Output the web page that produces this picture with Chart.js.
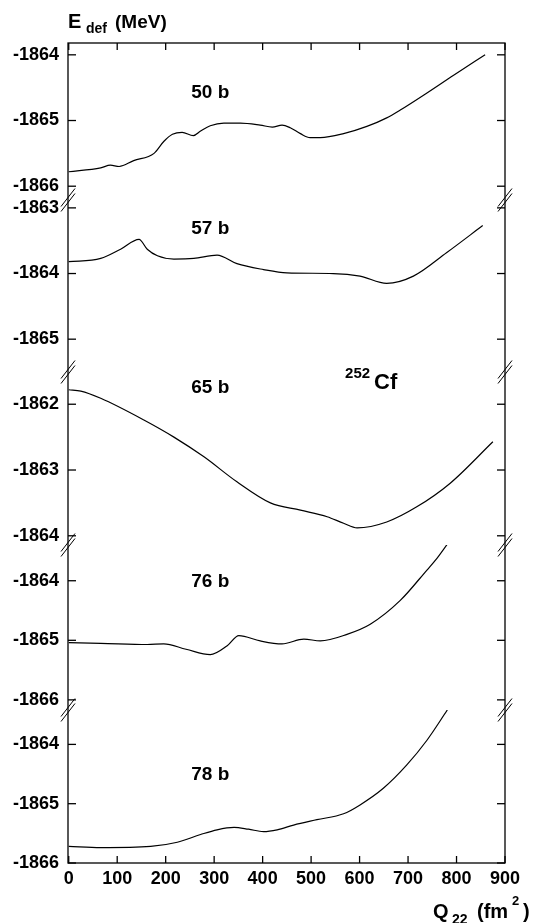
<!DOCTYPE html>
<html>
<head>
<meta charset="utf-8">
<script src="https://cdn.jsdelivr.net/npm/chart.js@4.4.1/dist/chart.umd.min.js"></script>
<style>
body { margin: 0; background: #fff; }
#wrap { width: 551px; height: 923px; }
</style>
</head>
<body>
<div id="wrap"><canvas id="lineChart" width="551" height="923"></canvas></div>
<script>
// Q22 (fm^2) and E_def (MeV)
const q50 = [0, 66, 86, 104, 134, 176, 196, 214, 234, 257, 272, 292, 320, 354, 395, 420, 440, 457, 478, 498, 519, 567, 615, 656, 684, 739, 794, 859];
const e50 = [-1865.78, -1865.72, -1865.68, -1865.70, -1865.61, -1865.50, -1865.32, -1865.21, -1865.18, -1865.23, -1865.16, -1865.08, -1865.04, -1865.04, -1865.07, -1865.10, -1865.07, -1865.11, -1865.20, -1865.26, -1865.26, -1865.20, -1865.09, -1864.96, -1864.84, -1864.58, -1864.31, -1864.00];

const q57 = [0, 66, 107, 145, 162, 183, 217, 258, 306, 347, 402, 450, 546, 601, 656, 711, 780, 854];
const e57 = [-1863.82, -1863.77, -1863.63, -1863.48, -1863.63, -1863.73, -1863.78, -1863.77, -1863.72, -1863.85, -1863.94, -1863.99, -1864.00, -1864.04, -1864.15, -1864.04, -1863.68, -1863.27];

const q65 = [0, 25, 66, 155, 217, 279, 347, 416, 478, 533, 567, 595, 656, 718, 787, 875];
const e65 = [-1861.78, -1861.80, -1861.91, -1862.24, -1862.50, -1862.80, -1863.18, -1863.50, -1863.61, -1863.71, -1863.81, -1863.88, -1863.79, -1863.56, -1863.20, -1862.57];

const q76 = [0, 66, 162, 196, 242, 292, 327, 351, 395, 440, 485, 519, 574, 622, 684, 739, 760, 791];
const e76 = [-1865.04, -1865.05, -1865.07, -1865.06, -1865.15, -1865.24, -1865.09, -1864.92, -1865.01, -1865.06, -1864.98, -1865.01, -1864.90, -1864.73, -1864.33, -1863.82, -1863.62, -1863.27];

const q78 = [0, 66, 169, 224, 272, 306, 341, 371, 402, 430, 464, 512, 567, 601, 649, 697, 739, 781];
const e78 = [-1865.72, -1865.74, -1865.72, -1865.65, -1865.52, -1865.44, -1865.40, -1865.43, -1865.47, -1865.44, -1865.36, -1865.27, -1865.17, -1865.02, -1864.74, -1864.35, -1863.93, -1863.42];

const panelNames = ['50 b', '57 b', '65 b', '76 b', '78 b'];
const panelQ = [q50, q57, q65, q76, q78];
const panelE = [e50, e57, e65, e76, e78];

const xTicks = [0, 100, 200, 300, 400, 500, 600, 700, 800, 900];
const panelTicks = [
    [-1866, -1865, -1864],
    [-1865, -1864, -1863],
    [-1864, -1863, -1862],
    [-1866, -1865, -1864],
    [-1866, -1865, -1864]
];
const panelMin = [-1866.21, -1865.50, -1864.14, -1866.17, -1866.0];
const panelMax = [-1863.82, -1862.88, -1861.51, -1863.40, -1863.42];

// where the panel names sit (data units)
const nameQ = 292;
const nameE = [-1864.57, -1863.32, -1861.75, -1864.02, -1864.52];

const panelIds = ['y1', 'y2', 'y3', 'y4', 'y5'];
const panelHeights = [157, 172, 173, 165, 153];
const boldFont = "'Liberation Sans', Arial, sans-serif";

function panelAxis(i){
    return {
        type: 'linear',
        position: 'left',
        stack: 'e',
        stackWeight: panelHeights[i],
        weight: 5 - i,
        min: panelMin[i],
        max: panelMax[i],
        grid: { display: false, drawTicks: false },
        border: { display: false },
        afterBuildTicks: function(s){ s.ticks = panelTicks[i].map(v => ({ value: v })); },
        afterFit: function(s){ s.width = 68; },
        ticks: {
            color: '#000',
            padding: 9,
            autoSkip: false,
            font: { family: boldFont, size: 18, weight: 'bold' },
            callback: v => String(v)
        }
    };
}

function strokeLine(ctx, x1, y1, x2, y2){
    ctx.beginPath();
    ctx.moveTo(x1, y1);
    ctx.lineTo(x2, y2);
    ctx.stroke();
}

function drawBreak(ctx, x, y){
    ctx.save();
    ctx.lineWidth = 1;
    [-2.5, 2.5].forEach(d => strokeLine(ctx, x - 7, y + 9 + d, x + 7, y - 9 + d));
    ctx.restore();
}

const framePlugin = {
    id: 'frame',
    afterDatasetsDraw(chart){
        const ctx = chart.ctx;
        const a = chart.chartArea;
        const xs = chart.scales.x;
        ctx.save();
        ctx.strokeStyle = '#000';
        ctx.lineWidth = 1.3;
        ctx.strokeRect(a.left, a.top, a.right - a.left, a.bottom - a.top);

        xTicks.forEach(v => {
            const px = xs.getPixelForValue(v);
            strokeLine(ctx, px, a.top, px, a.top + 7);
            strokeLine(ctx, px, a.bottom, px, a.bottom - 7);
        });

        panelIds.forEach((id, i) => {
            const s = chart.scales[id];
            s.ticks.forEach(t => {
                const py = s.getPixelForValue(t.value);
                strokeLine(ctx, a.left, py, a.left + 8, py);
                strokeLine(ctx, a.right, py, a.right - 8, py);
            });
            if(i > 0){
                drawBreak(ctx, a.left, s.top);
                drawBreak(ctx, a.right, s.top);
            }
        });

        // panel names
        ctx.fillStyle = '#000';
        ctx.textAlign = 'center';
        ctx.textBaseline = 'middle';
        ctx.font = 'bold 19px ' + boldFont;
        panelIds.forEach((id, i) => {
            ctx.fillText(panelNames[i], xs.getPixelForValue(nameQ), chart.scales[id].getPixelForValue(nameE[i]));
        });

        // nucleus label
        ctx.textAlign = 'left';
        ctx.textBaseline = 'alphabetic';
        const cx = xs.getPixelForValue(570);
        const cy = chart.scales.y3.getPixelForValue(-1861.77);
        ctx.font = 'bold 15px ' + boldFont;
        ctx.fillText('252', cx, cy - 11);
        ctx.font = 'bold 22px ' + boldFont;
        ctx.fillText('Cf', cx + 29, cy);

        // axis titles
        ctx.font = 'bold 20px ' + boldFont;
        ctx.fillText('E', a.left, 28);
        ctx.font = 'bold 14px ' + boldFont;
        ctx.fillText('def', a.left + 18, 33);
        ctx.font = 'bold 19px ' + boldFont;
        ctx.fillText('(MeV)', a.left + 47, 28);

        ctx.font = 'bold 20px ' + boldFont;
        ctx.fillText('Q', 433, 918);
        ctx.font = 'bold 14px ' + boldFont;
        ctx.fillText('22', 452, 924);
        ctx.font = 'bold 20px ' + boldFont;
        ctx.fillText('(fm', 477, 918);
        ctx.font = 'bold 13px ' + boldFont;
        ctx.fillText('2', 512, 905);
        ctx.font = 'bold 20px ' + boldFont;
        ctx.fillText(')', 523, 918);
        ctx.restore();
    }
};

const scales = {
    x: {
        type: 'linear',
        position: 'bottom',
        min: -1.5,
        max: 900,
        grid: { display: false, drawTicks: false },
        border: { display: false },
        afterBuildTicks: function(s){ s.ticks = xTicks.map(v => ({ value: v })); },
        afterFit: function(s){ s.height = 60; },
        ticks: {
            color: '#000',
            padding: 5,
            autoSkip: false,
            maxRotation: 0,
            font: { family: boldFont, size: 18, weight: 'bold' },
            callback: v => String(v)
        }
    }
};
panelIds.forEach((id, i) => { scales[id] = panelAxis(i); });

const datasets = panelIds.map((id, i) => ({
    label: panelNames[i],
    data: panelQ[i].map((q, k) => ({ x: q, y: panelE[i][k] })),
    xAxisID: 'x',
    yAxisID: id,
    borderColor: '#000',
    borderWidth: 1.2,
    pointRadius: 0,
    fill: false,
    cubicInterpolationMode: 'monotone'
}));

const config = {
    type: 'line',
    data: { datasets: datasets },
    options: {
        responsive: false,
        animation: false,
        layout: { padding: { top: 43, right: 46, left: 0, bottom: 0 } },
        plugins: {
            legend: { display: false },
            tooltip: { enabled: false }
        },
        scales: scales
    },
    plugins: [framePlugin]
};

const lineChart = new Chart(document.getElementById('lineChart'), config);
</script>
</body>
</html>
